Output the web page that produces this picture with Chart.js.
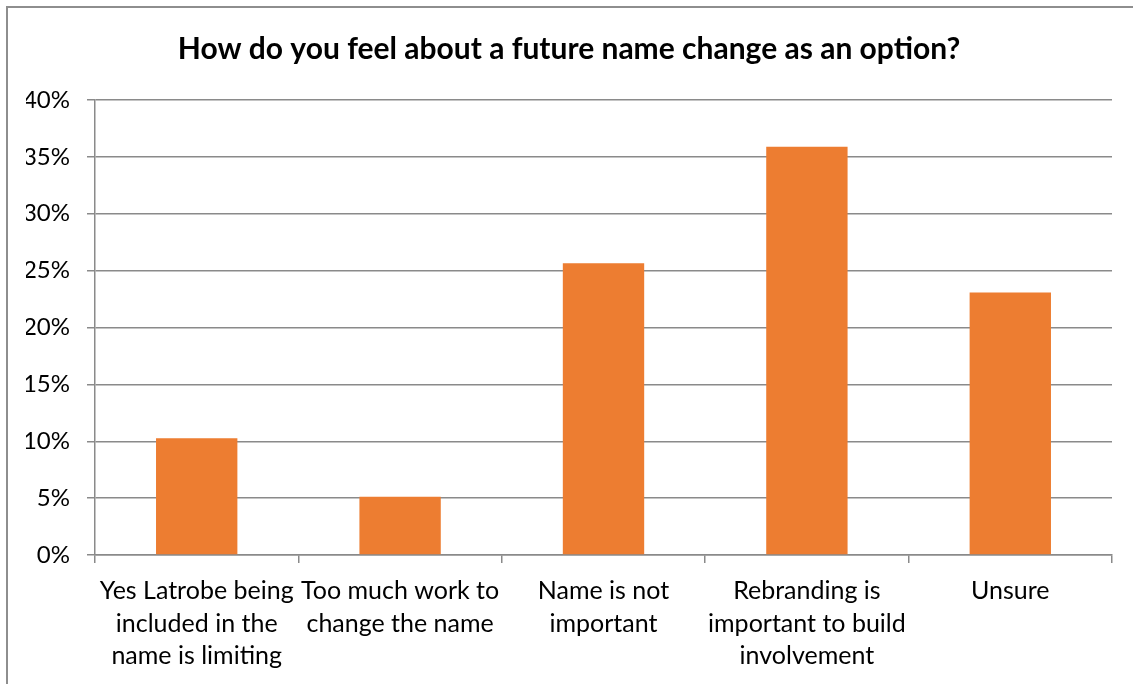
<!DOCTYPE html>
<html>
<head>
<meta charset="utf-8">
<script src="https://cdn.jsdelivr.net/npm/chart.js@4/dist/chart.umd.min.js"></script>
<style>
  html, body { margin: 0; padding: 0; background: #fff; overflow: hidden; }
  canvas { display: block; }
</style>
</head>
<body>
<canvas id="chart" width="1133" height="684"></canvas>
<script>
const title = 'How do you feel about a future name change as an option?';
const categories = [
  ['Yes Latrobe being', 'included in the', 'name is limiting'],
  ['Too much work to', 'change the name'],
  ['Name is not', 'important'],
  ['Rebranding is', 'important to build', 'involvement'],
  ['Unsure']
];
const values = [10.26, 5.13, 25.64, 35.9, 23.08]; // percent
const yMax = 40;
const yStep = 5;

const gridColor = '#8a8a8a';
const fontFamily = 'Lato, "Open Sans", sans-serif';

// outer chart frame (left and top edges are visible in the original)
const framePlugin = {
  id: 'frame',
  beforeDraw(chart) {
    const c = chart.ctx;
    c.save();
    c.fillStyle = '#fff';
    c.fillRect(0, 0, chart.width, chart.height);
    c.strokeStyle = '#8e8e8e';
    c.lineWidth = 2;
    c.beginPath();
    c.moveTo(7, chart.height);
    c.lineTo(7, 7);
    c.lineTo(chart.width, 7);
    c.stroke();
    c.restore();
  }
};

new Chart(document.getElementById('chart'), {
  type: 'bar',
  data: {
    labels: categories,
    datasets: [{
      data: values,
      backgroundColor: '#ED7D31',
      categoryPercentage: 1,
      barPercentage: 0.4
    }]
  },
  plugins: [framePlugin],
  options: {
    responsive: false,
    animation: false,
    // left padding shifts the title centre to match the original
    layout: { padding: { left: 26, right: 21, top: 0, bottom: 0 } },
    plugins: {
      legend: { display: false },
      tooltip: { enabled: false },
      title: {
        display: true,
        text: title,
        color: '#000',
        font: { family: fontFamily, size: 30, weight: 'bold' },
        padding: { top: 31, bottom: 33 }
      }
    },
    scales: {
      x: {
        grid: { offset: true, drawOnChartArea: false, drawTicks: true, tickLength: 8, color: gridColor, lineWidth: 1.5 },
        border: { color: gridColor, width: 1.5 },
        ticks: {
          color: '#000',
          maxRotation: 0,
          autoSkip: false,
          padding: 12,
          font: { family: fontFamily, size: 25, lineHeight: 1.3 }
        },
        afterFit: (scale) => { scale.height = 129; }
      },
      y: {
        min: 0,
        max: yMax,
        grid: { color: gridColor, lineWidth: 1.5, tickLength: 8 },
        border: { color: gridColor, width: 1.5 },
        ticks: {
          stepSize: yStep,
          color: '#000',
          padding: 17,
          font: { family: fontFamily, size: 24 },
          callback: (v) => v + '%'
        },
        afterFit: (scale) => { scale.width = 69; }
      }
    }
  }
});
</script>
</body>
</html>
